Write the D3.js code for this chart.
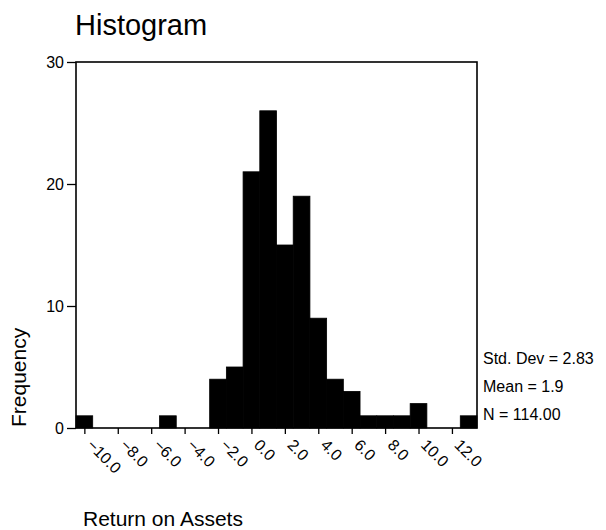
<!DOCTYPE html>
<meta charset="utf-8" />
<style>
  body {
    margin: 0;
    background: #fff;
    font-family: Arial, "Liberation Sans", Helvetica, sans-serif;
  }
  .axis .domain {
    display: none;
  }
  .axis line {
    stroke: #000;
    stroke-width: 1.3;
  }
  .axis text {
    fill: #000;
    font-family: Arial, "Liberation Sans", Helvetica, sans-serif;
    font-size: 16px;
  }
</style>
<body>
  <div class="container"></div>

  <script src="https://d3js.org/d3.v7.min.js"></script>
  <script>
    // bin midpoints (width 1) and counts
    let binCenters = [-10, -9, -8, -7, -6, -5, -4, -3, -2, -1, 0, 1, 2, 3, 4, 5, 6, 7, 8, 9, 10, 11, 12, 13];
    let counts = [1, 0, 0, 0, 0, 1, 0, 0, 4, 5, 21, 26, 15, 19, 9, 4, 3, 1, 1, 1, 2, 0, 0, 1];
    let xTicks = [-10, -8, -6, -4, -2, 0, 2, 4, 6, 8, 10, 12];
    let yTicks = [0, 10, 20, 30];
    let stats = ["Std. Dev = 2.83", "Mean = 1.9", "N = 114.00"];

    var width = 606,
      height = 530;

    var svg = d3
      .select(".container")
      .append("svg")
      .attr("width", width)
      .attr("height", height);

    // plot box
    var box = { left: 76, right: 477, top: 62, bottom: 428 };

    let x = d3.scaleLinear().domain([-10.5, 13.5]).range([box.left, box.right]);
    let y = d3.scaleLinear().domain([0, 30]).range([box.bottom, box.top]);

    // bars
    svg
      .selectAll("rect.bar")
      .data(binCenters)
      .enter()
      .append("rect")
      .attr("class", "bar")
      .attr("x", function (d) {
        return x(d - 0.5);
      })
      .attr("width", function (d) {
        return x(d + 0.5) - x(d - 0.5);
      })
      .attr("y", function (d, i) {
        return y(counts[i]);
      })
      .attr("height", function (d, i) {
        return y(0) - y(counts[i]);
      })
      .attr("fill", "#000")
      .attr("stroke", function (d, i) {
        return counts[i] > 0 ? "#000" : "none";
      })
      .attr("stroke-width", 0.8);

    // frame
    svg
      .append("rect")
      .attr("x", box.left)
      .attr("y", box.top)
      .attr("width", box.right - box.left)
      .attr("height", box.bottom - box.top)
      .attr("fill", "none")
      .attr("stroke", "#000")
      .attr("stroke-width", 1.6);

    // y axis
    svg
      .append("g")
      .attr("class", "axis")
      .attr("transform", "translate(" + box.left + ",0)")
      .call(d3.axisLeft(y).tickValues(yTicks).tickSize(9).tickPadding(3).tickFormat(d3.format("d")));

    // x axis
    let xAxis = svg
      .append("g")
      .attr("class", "axis")
      .attr("transform", "translate(0," + box.bottom + ")")
      .call(d3.axisBottom(x).tickValues(xTicks).tickSize(6).tickFormat(d3.format(".1f")));

    xAxis
      .selectAll(".tick text")
      .attr("text-anchor", "start")
      .attr("y", 0)
      .attr("dy", "0.35em")
      .attr("transform", "translate(5,14) rotate(45)");

    // title
    svg
      .append("text")
      .attr("x", 75)
      .attr("y", 35)
      .style("font-size", "29px")
      .text("Histogram");

    // axis labels
    svg
      .append("text")
      .attr("x", 83)
      .attr("y", 526)
      .style("font-size", "21px")
      .text("Return on Assets");

    svg
      .append("text")
      .attr("transform", "translate(26,427) rotate(-90)")
      .attr("text-anchor", "start")
      .style("font-size", "21px")
      .text("Frequency");

    // summary stats
    svg
      .selectAll("text.stat")
      .data(stats)
      .enter()
      .append("text")
      .attr("class", "stat")
      .attr("x", 483)
      .attr("y", function (d, i) {
        return 364 + i * 28;
      })
      .style("font-size", "16px")
      .text(function (d) {
        return d;
      });
  </script>
</body>
